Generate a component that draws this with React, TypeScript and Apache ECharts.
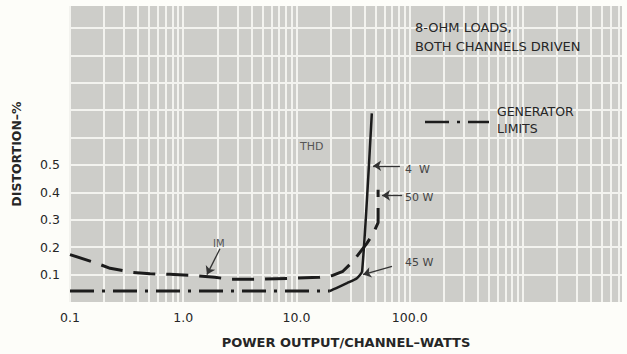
import React, { useEffect, useRef } from 'react';
import * as echarts from 'echarts';

// tick labels shown on the axes
const xTickLabels = ['0.1', '1.0', '10.0', '100.0'];
const yTickLabels = ['0.1', '0.2', '0.3', '0.4', '0.5'];

// THD, flat part (dash-dot, generator residual level)
const thdLowPower = [0.1, 0.3, 1, 3, 10, 19.7];
const thdLowDist = [0.04, 0.04, 0.04, 0.04, 0.04, 0.04];

// THD, rising part (solid)
const thdHighPower = [19.7, 22.5, 27.9, 34.2, 38, 46.3];
const thdHighDist = [0.04, 0.051, 0.069, 0.087, 0.112, 0.688];

// IM distortion (dashed)
const imPower = [0.1, 0.173, 0.226, 0.36, 0.51, 0.76, 1.22, 1.9, 2.6, 4.8, 8.7, 16, 20.9, 25.7, 31.5, 41.7, 47.5, 52.6, 52.6];
const imDist = [0.173, 0.141, 0.123, 0.108, 0.103, 0.101, 0.097, 0.09, 0.083, 0.083, 0.086, 0.09, 0.097, 0.112, 0.148, 0.213, 0.249, 0.29, 0.41];

// graph-paper rulings
const decades = [0.1, 1, 10, 100, 1000];
const decadeSteps = [1, 2, 3, 4, 5, 6, 7, 8, 9];
const yRulings = [0.1, 0.2, 0.3, 0.4, 0.5, 0.6, 0.7, 0.8, 0.9, 1.0];

// annotation arrows: [tailPower, tailDist, headPower, headDist]
const arrows = [
  [82, 0.497, 47.5, 0.497],
  [85.7, 0.389, 57, 0.389],
  [69.8, 0.13, 38.7, 0.1],
  [2.11, 0.194, 1.62, 0.1],
];

const zip = (a: number[], b: number[]) => a.map((v, i) => [v, b[i]]);

export default function App() {
  const ref = useRef<HTMLDivElement>(null);
  useEffect(() => {
    if (!ref.current) return;
    const chart = echarts.init(ref.current, undefined, { renderer: 'svg' });
    const font = 'DejaVu Sans';
    const ink = '#262626';
    const xRulings: number[] = [];
    decades.forEach((d) => decadeSteps.forEach((s) => xRulings.push(+(d * s).toPrecision(3))));
    const txt = (text: string, left: number, top: number, fontSize: number, fill: string) => ({
      type: 'text',
      left,
      top,
      z: 100,
      style: { text, fontFamily: font, fontSize, fill },
    });

    chart.setOption({
      animation: false,
      backgroundColor: '#fdfdf9',
      grid: {
        left: 70,
        right: 5,
        top: 6,
        bottom: 48,
        show: true,
        backgroundColor: '#cdcdc9',
        borderWidth: 0,
      },
      xAxis: {
        type: 'log',
        logBase: 10,
        min: 0.1,
        max: 7500,
        axisLine: { show: false },
        axisTick: { show: false },
        splitLine: { show: false },
        axisLabel: {
          margin: 9,
          fontFamily: font,
          fontSize: 12.5,
          color: ink,
          formatter: (v: number) => {
            const s = v.toFixed(1);
            return xTickLabels.includes(s) ? s : '';
          },
        },
        name: 'POWER OUTPUT/CHANNEL–WATTS',
        nameLocation: 'middle',
        nameGap: 34,
        nameTextStyle: { fontFamily: font, fontSize: 13, fontWeight: 'bold', color: ink },
      },
      yAxis: {
        type: 'value',
        min: 0,
        max: 1.08,
        interval: 0.1,
        axisLine: { show: false },
        axisTick: { show: false },
        splitLine: { show: false },
        axisLabel: {
          margin: 10,
          fontFamily: font,
          fontSize: 12.5,
          color: ink,
          formatter: (v: number) => {
            const s = v.toFixed(1);
            return yTickLabels.includes(s) ? s : '';
          },
        },
        name: 'DISTORTION–%',
        nameLocation: 'middle',
        nameRotate: 90,
        nameGap: 47,
        nameTextStyle: { fontFamily: font, fontSize: 12.5, fontWeight: 'bold', color: ink },
      },
      series: [
        {
          type: 'line',
          name: 'rulings',
          data: [],
          silent: true,
          z: 1,
          markLine: {
            z: 1,
            silent: true,
            symbol: 'none',
            label: { show: false },
            lineStyle: { color: '#f3f3ef', width: 2, type: 'solid' },
            data: [
              ...xRulings.map((v) => ({ xAxis: v })),
              ...yRulings.map((v) => ({ yAxis: v })),
            ],
          },
        },
        {
          type: 'line',
          name: 'THD',
          data: zip(thdLowPower, thdLowDist),
          showSymbol: false,
          z: 3,
          lineStyle: { color: '#1c1c1c', width: 3, type: [24, 8, 3, 8] },
        },
        {
          type: 'line',
          name: 'THD',
          data: zip(thdHighPower, thdHighDist),
          showSymbol: false,
          smooth: 0.2,
          z: 3,
          lineStyle: { color: '#1c1c1c', width: 2.5, type: 'solid' },
        },
        {
          type: 'line',
          name: 'IM',
          data: zip(imPower, imDist),
          showSymbol: false,
          z: 3,
          lineStyle: { color: '#1c1c1c', width: 3, type: [22, 11] },
        },
        {
          type: 'line',
          name: 'arrows',
          data: [],
          silent: true,
          z: 4,
          markLine: {
            z: 4,
            silent: true,
            symbol: ['none', 'arrow'],
            symbolSize: 8,
            label: { show: false },
            lineStyle: { color: '#333', width: 1.3, type: 'solid' },
            data: arrows.map((a) => [{ coord: [a[0], a[1]] }, { coord: [a[2], a[3]] }]),
          },
        },
      ],
      graphic: [
        txt('8-OHM LOADS,', 415, 21, 13, ink),
        txt('BOTH CHANNELS DRIVEN', 415, 40, 13, ink),
        txt('THD', 300, 141, 11, '#555'),
        txt('IM', 213, 238, 10, '#555'),
        txt('4  W', 405, 164, 11, '#444'),
        txt('50 W', 405, 192, 11, '#444'),
        txt('45 W', 405, 257, 11, '#444'),
        txt('GENERATOR', 497, 105, 12.5, ink),
        txt('LIMITS', 497, 122, 12.5, ink),
        {
          type: 'line',
          z: 100,
          shape: { x1: 425, y1: 122, x2: 489, y2: 122 },
          style: { stroke: '#1c1c1c', lineWidth: 2.5, lineDash: [24, 8, 3, 8] },
        },
      ],
    });
    return () => chart.dispose();
  }, []);
  return <div ref={ref} style={{ position: 'fixed', left: 0, top: 0, width: 627, height: 354 }} />;
}
